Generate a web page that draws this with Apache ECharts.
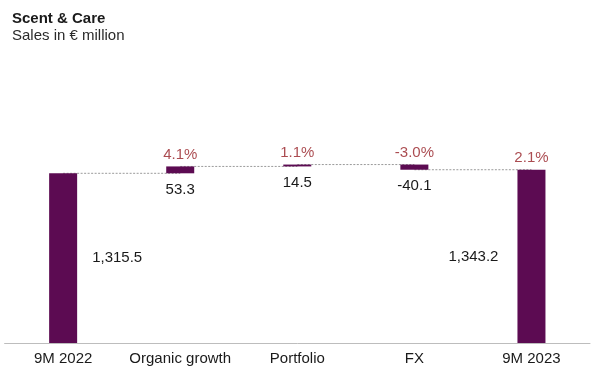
<!DOCTYPE html>
<html>
<head>
<meta charset="utf-8">
<script src="https://cdn.jsdelivr.net/npm/echarts@6/dist/echarts.min.js"></script>
<style>
html,body{margin:0;padding:0;background:#fff;}
#chart{width:600px;height:387px;}
</style>
</head>
<body>
<div id="chart"></div>
<script>
const categories = ['9M 2022', 'Organic growth', 'Portfolio', 'FX', '9M 2023'];
const values = [1315.5, 53.3, 14.5, -40.1, 1343.2];
const isTotal = [true, false, false, false, true];
const valueLabels = ['1,315.5', '53.3', '14.5', '-40.1', '1,343.2'];
const pctLabels = ['', '4.1%', '1.1%', '-3.0%', '2.1%'];

const FONT = '"Liberation Sans", Arial, sans-serif';
const BAR = '#5c0b52';
const RED = '#961f25';

// waterfall construction
const base = [], heights = [], levels = [];
let running = 0;
values.forEach((v, i) => {
  if (isTotal[i]) { base.push(0); heights.push(v); running = v; }
  else if (v >= 0) { base.push(running); heights.push(v); running += v; }
  else { running += v; base.push(running); heights.push(-v); }
  levels.push(running);
});
const tops = base.map((b, i) => b + heights[i]);

const visibleData = heights.map((h, i) => {
  let label;
  if (i === 0) label = { position: 'right', distance: 15 };
  else if (i === values.length - 1) label = { position: 'left', distance: 19 };
  else label = { position: 'bottom', distance: 9 };
  return { value: h, label: Object.assign({ show: true, formatter: valueLabels[i] }, label) };
});

const connectorData = [];
for (let i = 0; i < values.length - 1; i++) connectorData.push([i, levels[i]]);

const pctData = [];
pctLabels.forEach((p, i) => { if (p) pctData.push({ value: [i, tops[i]], label: { formatter: p } }); });

const chart = echarts.init(document.getElementById('chart'), null, { renderer: 'canvas' });
chart.setOption({
  animation: false,
  backgroundColor: '#fff',
  title: {
    text: 'Scent & Care',
    subtext: 'Sales in € million',
    left: 7, top: 6,
    itemGap: 2,
    textStyle: { fontFamily: FONT, fontSize: 15, fontWeight: 'bold', color: '#1a1a1a' },
    subtextStyle: { fontFamily: FONT, fontSize: 15, color: '#2a2a2a' }
  },
  grid: { left: 4.6, right: 10, top: 110.8, bottom: 44 },
  xAxis: {
    type: 'category',
    data: categories,
    axisTick: { show: false },
    axisLine: { lineStyle: { color: '#bdbdbd', width: 1 } },
    axisLabel: { fontFamily: FONT, fontSize: 15, color: '#1a1a1a', margin: 8, interval: 0 }
  },
  yAxis: {
    type: 'value', min: 0, max: 1800, show: false,
    splitLine: { show: false }
  },
  series: [
    {
      type: 'custom',
      z: 1,
      silent: true,
      encode: { x: 0, y: 1 },
      data: connectorData,
      renderItem: function (params, api) {
        const i = api.value(0);
        const lv = api.value(1);
        const p1 = api.coord([i, lv]);
        const p2 = api.coord([i + 1, lv]);
        return {
          type: 'line',
          shape: { x1: p1[0], y1: p1[1], x2: p2[0], y2: p2[1] },
          style: { stroke: '#9a9a9a', lineWidth: 1, lineDash: [2, 1.5] }
        };
      }
    },
    {
      type: 'bar', stack: 'w', z: 2,
      barWidth: 28,
      itemStyle: { color: 'transparent' },
      data: base
    },
    {
      type: 'bar', stack: 'w', z: 3,
      barWidth: 28,
      itemStyle: { color: BAR },
      label: { show: true, fontFamily: FONT, fontSize: 15, color: '#1a1a1a' },
      data: visibleData
    },
    {
      type: 'scatter', z: 4,
      symbolSize: 1,
      itemStyle: { color: 'transparent' },
      label: { show: true, position: 'top', distance: 4, fontFamily: FONT, fontSize: 15, color: RED },
      data: pctData
    }
  ]
});
</script>
</body>
</html>
